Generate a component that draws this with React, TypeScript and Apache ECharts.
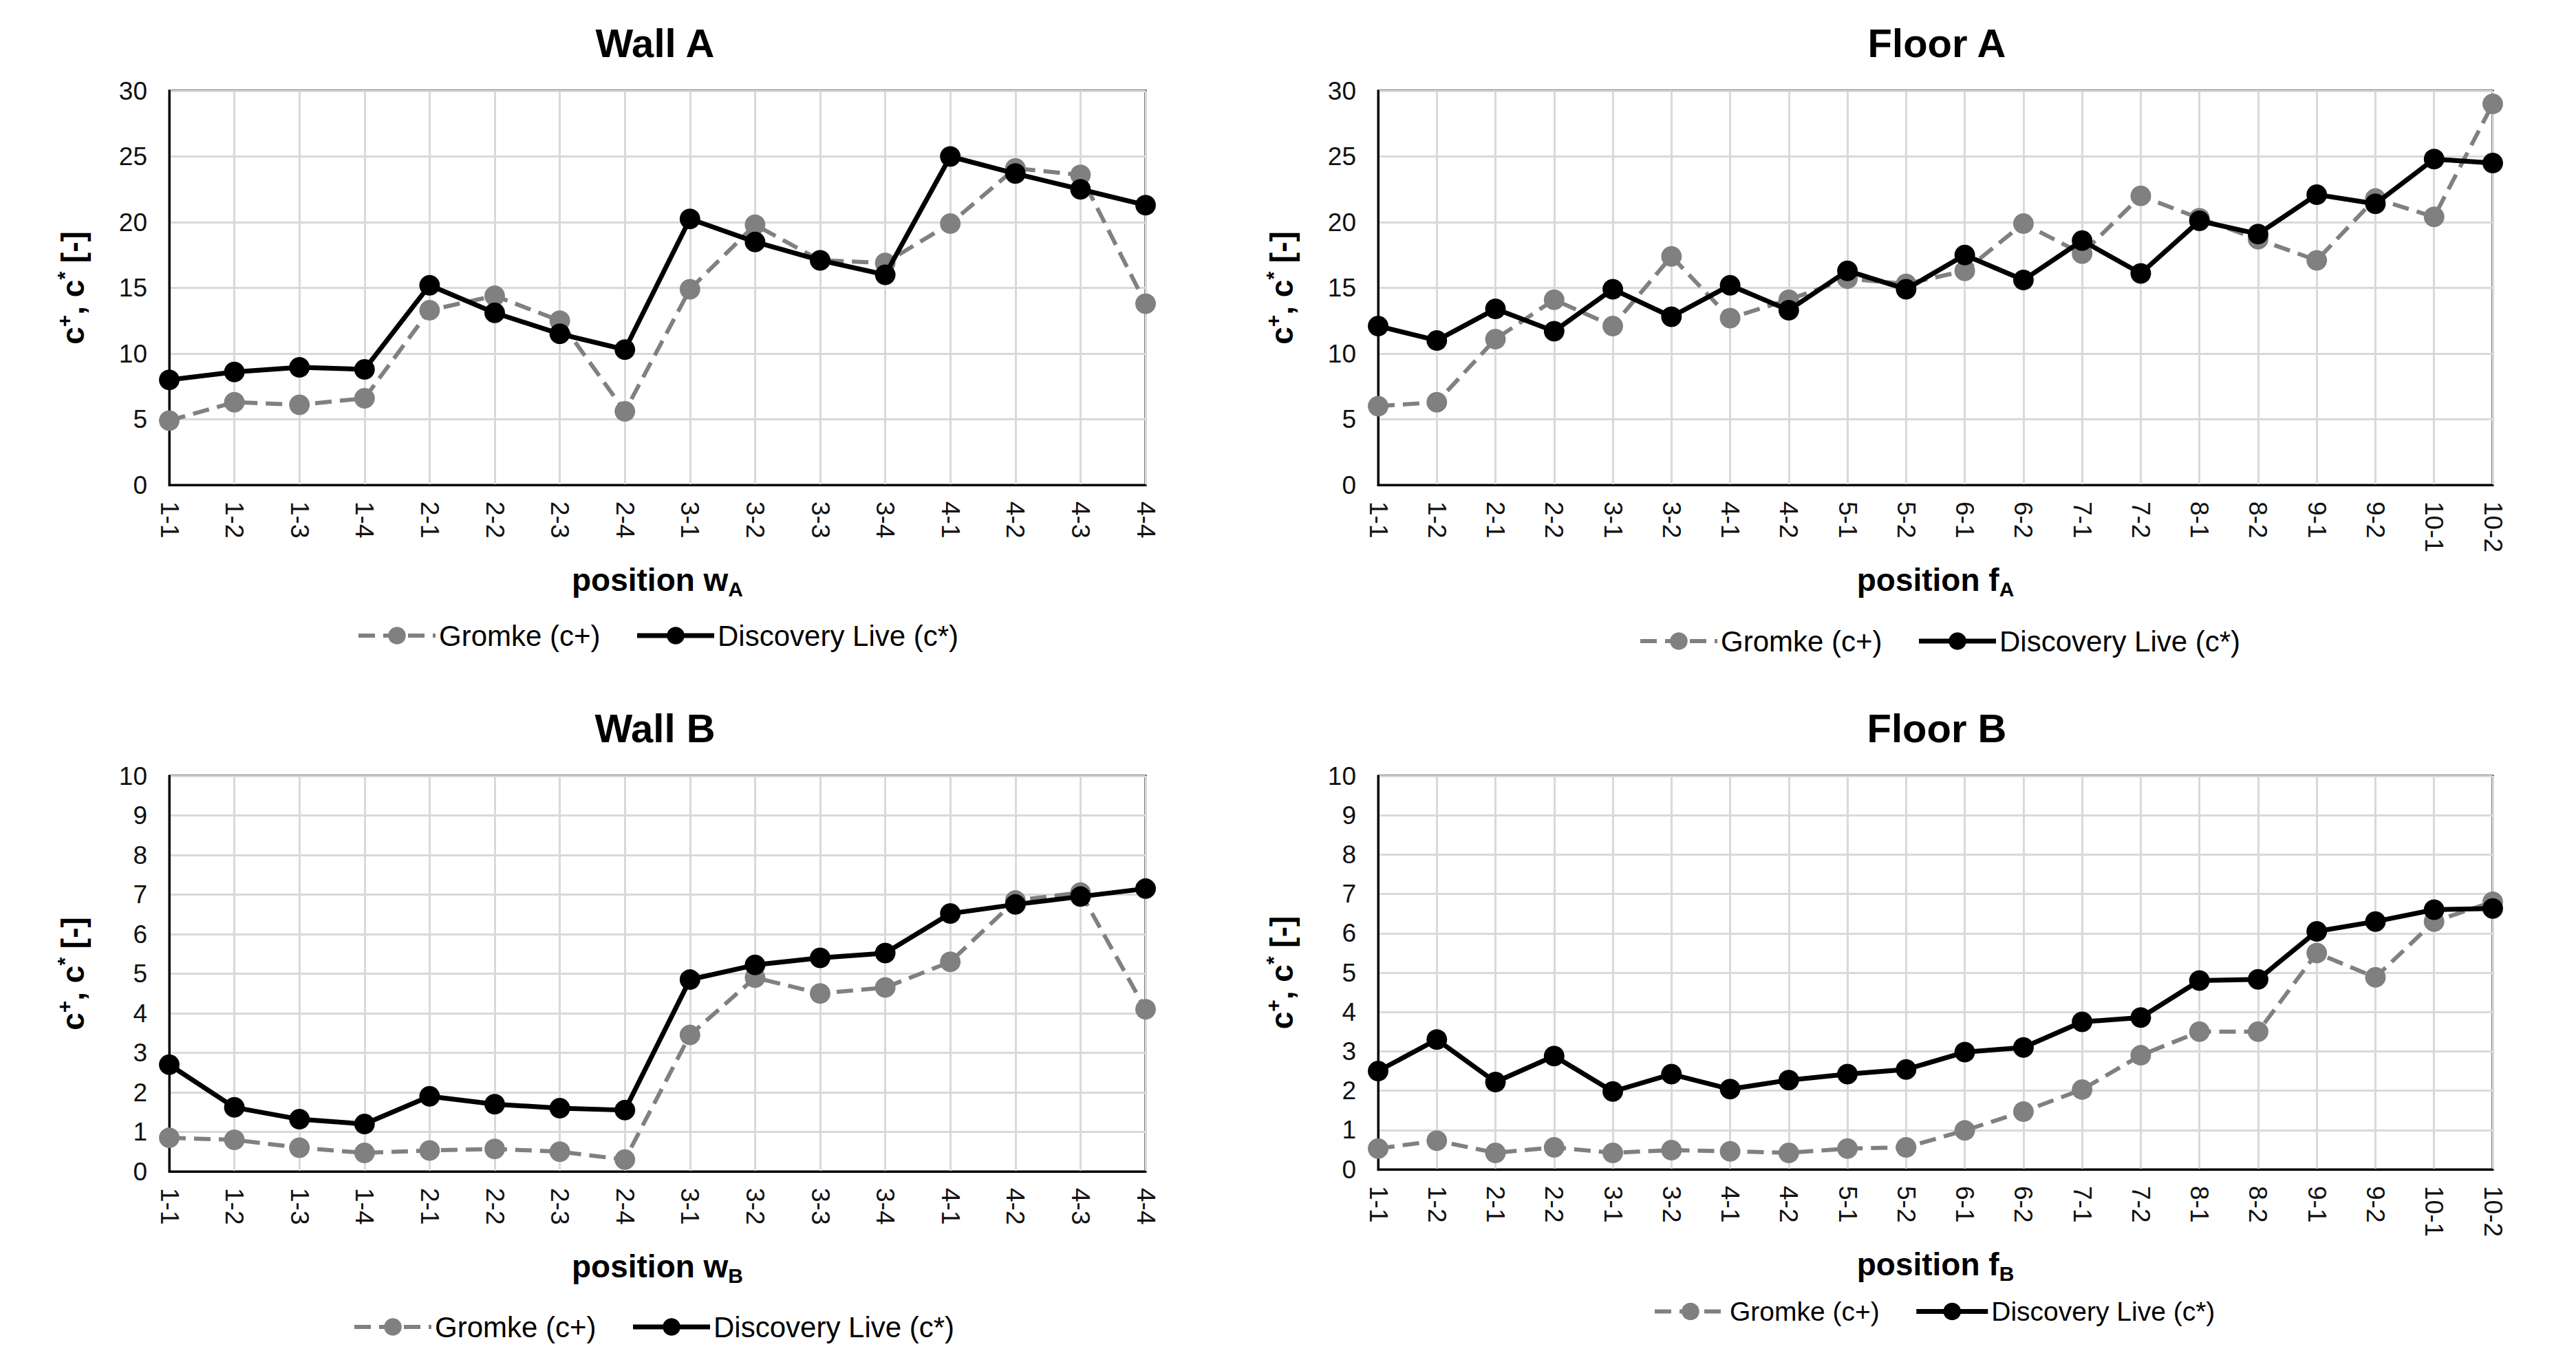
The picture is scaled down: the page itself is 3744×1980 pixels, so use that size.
import React, { useEffect, useRef } from 'react';
import * as echarts from 'echarts';

const wallCategories = ['1-1', '1-2', '1-3', '1-4', '2-1', '2-2', '2-3', '2-4', '3-1', '3-2', '3-3', '3-4', '4-1', '4-2', '4-3', '4-4'];
const floorCategories = ['1-1', '1-2', '2-1', '2-2', '3-1', '3-2', '4-1', '4-2', '5-1', '5-2', '6-1', '6-2', '7-1', '7-2', '8-1', '8-2', '9-1', '9-2', '10-1', '10-2'];

const seriesNames = ['Gromke (c+)', 'Discovery Live (c*)'];

const wallAGromke = [4.9, 6.3, 6.1, 6.6, 13.3, 14.4, 12.5, 5.6, 14.9, 19.8, 17.1, 16.9, 19.9, 24.1, 23.6, 13.8];
const wallADiscovery = [8.0, 8.6, 8.95, 8.8, 15.2, 13.1, 11.5, 10.3, 20.25, 18.5, 17.1, 16.0, 25.0, 23.7, 22.5, 21.3];
const floorAGromke = [6.0, 6.3, 11.1, 14.1, 12.1, 17.4, 12.7, 14.1, 15.7, 15.3, 16.3, 19.9, 17.6, 22.0, 20.3, 18.7, 17.1, 21.8, 20.4, 29.0];
const floorADiscovery = [12.1, 11.0, 13.4, 11.7, 14.9, 12.8, 15.2, 13.3, 16.3, 14.9, 17.5, 15.6, 18.6, 16.1, 20.1, 19.1, 22.1, 21.4, 24.8, 24.5];
const wallBGromke = [0.85, 0.8, 0.6, 0.47, 0.53, 0.57, 0.5, 0.3, 3.45, 4.9, 4.5, 4.65, 5.3, 6.85, 7.05, 4.1];
const wallBDiscovery = [2.7, 1.62, 1.32, 1.2, 1.9, 1.7, 1.6, 1.55, 4.85, 5.22, 5.4, 5.52, 6.52, 6.75, 6.95, 7.15];
const floorBGromke = [0.53, 0.73, 0.42, 0.56, 0.42, 0.49, 0.46, 0.42, 0.53, 0.56, 0.99, 1.47, 2.03, 2.9, 3.5, 3.5, 5.5, 4.88, 6.3, 6.8];
const floorBDiscovery = [2.5, 3.3, 2.22, 2.88, 1.98, 2.42, 2.04, 2.27, 2.42, 2.54, 2.98, 3.1, 3.75, 3.86, 4.8, 4.83, 6.05, 6.3, 6.6, 6.63];

const FONT = '"Liberation Sans", Arial, Helvetica, sans-serif';

const panels = [
  {
    title: 'Wall A', cats: wallCategories, g: wallAGromke, d: wallADiscovery, max: 30, interval: 5,
    letter: 'w', sub: 'A',
    grid: { left: 246, top: 132, width: 1419, height: 573 },
    titleX: 952, titleY: 62, legendLeft: 513, legendTop: 898, legendFont: 42, legendItemW: 112,
  },
  {
    title: 'Floor A', cats: floorCategories, g: floorAGromke, d: floorADiscovery, max: 30, interval: 5,
    letter: 'f', sub: 'A',
    grid: { left: 2003, top: 132, width: 1620, height: 573 },
    titleX: 2815, titleY: 62, legendLeft: 2376, legendTop: 906, legendFont: 42, legendItemW: 112,
  },
  {
    title: 'Wall B', cats: wallCategories, g: wallBGromke, d: wallBDiscovery, max: 10, interval: 1,
    letter: 'w', sub: 'B',
    grid: { left: 246, top: 1128, width: 1419, height: 575 },
    titleX: 952, titleY: 1058, legendLeft: 507, legendTop: 1903, legendFont: 42, legendItemW: 112,
  },
  {
    title: 'Floor B', cats: floorCategories, g: floorBGromke, d: floorBDiscovery, max: 10, interval: 1,
    letter: 'f', sub: 'B',
    grid: { left: 2003, top: 1128, width: 1620, height: 572 },
    titleX: 2815, titleY: 1058, legendLeft: 2397, legendTop: 1882, legendFont: 39, legendItemW: 104,
  },
];

const GRID_COLOR = '#d9d9d9';
const GRAY = '#808080';

function buildOption() {
  const grid: any[] = [];
  const xAxis: any[] = [];
  const yAxis: any[] = [];
  const series: any[] = [];
  const legend: any[] = [];
  const graphic: any[] = [];

  panels.forEach((p, i) => {
    grid.push({
      ...p.grid,
      show: true,
      borderColor: '#000',
      borderWidth: 3,
      backgroundColor: 'transparent',
      containLabel: false,
    });
    xAxis.push({
      type: 'category',
      gridIndex: i,
      data: p.cats,
      boundaryGap: false,
      axisLine: { show: true, lineStyle: { color: '#000', width: 3 } },
      axisTick: { show: false },
      splitLine: { show: true, interval: 0, lineStyle: { color: GRID_COLOR, width: 3 } },
      axisLabel: {
        interval: 0,
        rotate: -90,
        margin: 24,
        fontSize: 37,
        color: '#111',
        fontFamily: FONT,
      },
      name: `{m|position ${p.letter}}{b|${p.sub}}`,
      nameLocation: 'middle',
      nameGap: 110,
      nameTextStyle: {
        fontFamily: FONT,
        rich: {
          m: { fontSize: 46, fontWeight: 'bold', color: '#000', fontFamily: FONT, lineHeight: 56 },
          b: { fontSize: 30, fontWeight: 'bold', color: '#000', fontFamily: FONT, lineHeight: 26, verticalAlign: 'bottom' },
        },
      },
    });
    yAxis.push({
      type: 'value',
      gridIndex: i,
      min: 0,
      max: p.max,
      interval: p.interval,
      axisLine: { show: true, lineStyle: { color: '#000', width: 3 } },
      axisTick: { show: false },
      splitLine: { show: true, lineStyle: { color: GRID_COLOR, width: 3 } },
      axisLabel: { fontSize: 37, color: '#111', fontFamily: FONT, margin: 32 },
      name: '{m|c}{s|+}{m|, c}{s|*}{m| [-]}',
      nameLocation: 'middle',
      nameRotate: 90,
      nameGap: 112,
      nameTextStyle: {
        fontFamily: FONT,
        rich: {
          m: { fontSize: 46, fontWeight: 'bold', color: '#000', fontFamily: FONT, lineHeight: 56 },
          s: { fontSize: 30, fontWeight: 'bold', color: '#000', fontFamily: FONT, lineHeight: 28, verticalAlign: 'top' },
        },
      },
    });
    series.push({
      name: seriesNames[0],
      type: 'line',
      xAxisIndex: i,
      yAxisIndex: i,
      data: p.g,
      symbol: 'circle',
      symbolSize: 30,
      showAllSymbol: true,
      itemStyle: { color: GRAY },
      lineStyle: { color: GRAY, width: 6, type: [24, 12] },
      z: 2,
    });
    series.push({
      name: seriesNames[1],
      type: 'line',
      xAxisIndex: i,
      yAxisIndex: i,
      data: p.d,
      symbol: 'circle',
      symbolSize: 30,
      showAllSymbol: true,
      itemStyle: { color: '#000' },
      lineStyle: { color: '#000', width: 7, type: 'solid' },
      z: 3,
    });
    legend.push({
      left: p.legendLeft,
      top: p.legendTop,
      orient: 'horizontal',
      data: seriesNames,
      itemWidth: p.legendItemW,
      itemHeight: 32,
      itemGap: 50,
      selectedMode: false,
      lineStyle: { width: 'inherit', type: 'inherit' },
      textStyle: { fontSize: p.legendFont, color: '#000', fontFamily: FONT },
    });
    graphic.push({
      type: 'text',
      x: p.titleX,
      y: p.titleY,
      style: {
        text: p.title,
        font: `bold 58px ${FONT}`,
        fill: '#000',
        textAlign: 'center',
        textVerticalAlign: 'middle',
        align: 'center',
        verticalAlign: 'middle',
      },
    });
  });

  return {
    animation: false,
    backgroundColor: '#fff',
    grid,
    xAxis,
    yAxis,
    series,
    legend,
    graphic,
  };
}

export default function App() {
  const ref = useRef<HTMLDivElement>(null);
  useEffect(() => {
    document.body.style.margin = '0';
    if (!ref.current) return;
    const chart = echarts.init(ref.current, null, { renderer: 'svg' });
    chart.setOption(buildOption() as any);
    return () => {
      chart.dispose();
    };
  }, []);
  return <div ref={ref} style={{ width: 3744, height: 1980, background: '#fff' }} />;
}
